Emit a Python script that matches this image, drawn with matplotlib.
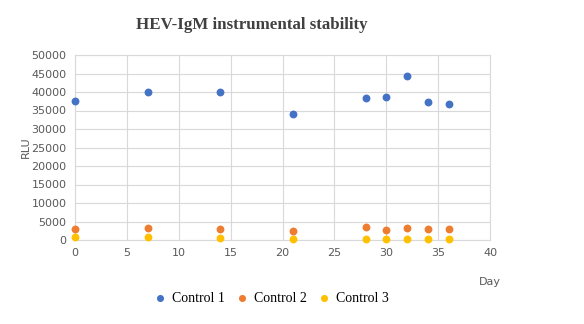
import numpy as np
import matplotlib
matplotlib.use("Agg")
import matplotlib.pyplot as plt

# data
days = [0, 7, 14, 21, 28, 30, 32, 34, 36]
control1 = [37500, 40100, 40100, 34050, 38450, 38550, 44250, 37300, 36850]
control2 = [3050, 3350, 2900, 2500, 3600, 2800, 3150, 3000, 2900]
control3 = [700, 700, 550, 200, 300, 300, 300, 300, 250]
series_names = ["Control 1", "Control 2", "Control 3"]
colors = ["#4472C4", "#ED7D31", "#FFC000"]

fig = plt.figure(figsize=(5.84, 3.24), dpi=100)
ax = fig.add_axes([75/584, 1-240/324, 415/584, 185/324])

for vals, name, c in zip([control1, control2, control3], series_names, colors):
    ax.scatter(days, vals, s=32, color=c, label=name, zorder=3, linewidths=0,
               clip_on=False)

ax.set_xlim(0, 40)
ax.set_ylim(0, 50000)
ax.set_xticks(np.arange(0, 41, 5))
ax.set_yticks(np.arange(0, 50001, 5000))
ax.grid(True, color="#D9D9D9", linewidth=0.8)
ax.set_axisbelow(True)
for sp in ax.spines.values():
    sp.set_color("#D9D9D9")
    sp.set_linewidth(0.8)
ax.tick_params(length=0, labelsize=8, colors="#595959", pad=6)

fig.text(26/584, 1-147/324, "RLU", rotation=90, ha="center", va="center",
         fontsize=8, color="#595959")
fig.text(490/584, 1-282/324, "Day", ha="center", va="center",
         fontsize=8, color="#595959")
fig.text(252/584, 1-25/324, "HEV-IgM instrumental stability", ha="center",
         va="center", fontsize=12.2, fontweight="bold", color="#404040",
         family="Liberation Serif")

leg = fig.legend(loc="center", bbox_to_anchor=(270/584, 1-298/324), ncol=3,
                 frameon=False, prop={"family": "Liberation Serif", "size": 10},
                 handletextpad=0.3, columnspacing=0.6, handlelength=1.2,
                 markerscale=0.9)

fig.savefig("out.png", dpi=100)
